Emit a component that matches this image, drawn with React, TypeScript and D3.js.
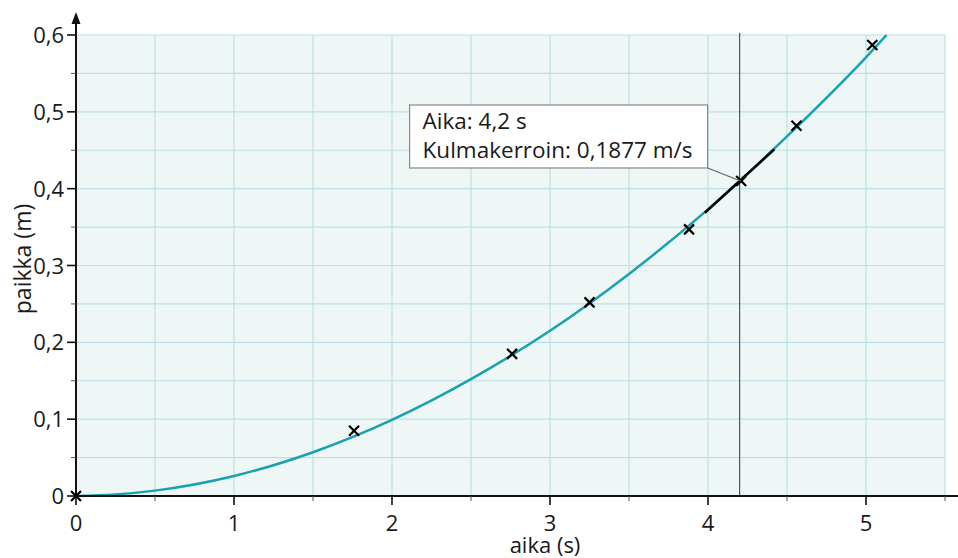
import React, { useEffect, useRef } from 'react';
import * as d3 from 'd3';

// measured points (aika s, paikka m)
const pointTimes = [0, 1.76, 2.76, 3.25, 3.88, 4.21, 4.56, 5.04];
const pointPositions = [0, 0.085, 0.185, 0.252, 0.347, 0.41, 0.482, 0.587];

// fitted curve
const curveTimes = [0, 0.25, 0.5, 1, 1.5, 2, 2.5, 3, 3.5, 4, 4.5, 5, 5.13];
const curvePositions = [0, 0.002, 0.007, 0.026, 0.057, 0.099, 0.152, 0.215, 0.289, 0.373, 0.468, 0.571, 0.6];

// tangent at t = 4.2
const tangentTime = 4.2;
const tangentPosition = 0.41;
const tangentSlope = 0.1877;
const tangentSpan = [3.98, 4.42];

const xTicks = [0, 1, 2, 3, 4, 5];
const xMinorTicks = [0.5, 1.5, 2.5, 3.5, 4.5, 5.5];
const yTicks = [0, 0.1, 0.2, 0.3, 0.4, 0.5, 0.6];
const yMinorTicks = [0.05, 0.15, 0.25, 0.35, 0.45, 0.55];

const tooltipLines = ['Aika: 4,2 s', 'Kulmakerroin: 0,1877 m/s'];

const WIDTH = 958;
const HEIGHT = 558;
const FONT = "'Open Sans', sans-serif";

const fmt = (v: number) => (v === 0 ? '0' : d3.format('.1f')(v).replace('.', ','));

const App = () => {
    const ref = useRef<SVGSVGElement>(null);

    useEffect(() => {
        const svg = d3.select(ref.current);
        svg.selectAll('*').remove();

        const x = d3.scaleLinear().domain([0, 5.5]).range([76, 945]);
        const y = d3.scaleLinear().domain([0, 0.6]).range([496, 35]);

        // plot background
        svg.append('rect')
            .attr('x', x(0))
            .attr('y', y(0.6))
            .attr('width', x(5.5) - x(0))
            .attr('height', y(0) - y(0.6))
            .attr('fill', '#eff6f6');

        // grid
        const grid = svg.append('g').attr('stroke', '#b9e1e7').attr('stroke-width', 1.2);
        [...xTicks, ...xMinorTicks].forEach((t) => {
            grid.append('line')
                .attr('x1', x(t)).attr('x2', x(t))
                .attr('y1', y(0)).attr('y2', y(0.6));
        });
        [...yTicks, ...yMinorTicks].forEach((v) => {
            grid.append('line')
                .attr('x1', x(0)).attr('x2', x(5.5))
                .attr('y1', y(v)).attr('y2', y(v));
        });

        // vertical marker at t = 4.2
        svg.append('line')
            .attr('x1', x(tangentTime)).attr('x2', x(tangentTime))
            .attr('y1', y(0.6) - 2).attr('y2', y(0))
            .attr('stroke', '#555')
            .attr('stroke-width', 1.2);

        // fitted curve
        const line = d3.line<number>()
            .x((d, i) => x(curveTimes[i]))
            .y((d) => y(d))
            .curve(d3.curveMonotoneX);
        svg.append('path')
            .attr('d', line(curvePositions))
            .attr('fill', 'none')
            .attr('stroke', '#17a2af')
            .attr('stroke-width', 2.5);

        // tangent segment
        svg.append('line')
            .attr('x1', x(tangentSpan[0]))
            .attr('y1', y(tangentPosition + tangentSlope * (tangentSpan[0] - tangentTime)))
            .attr('x2', x(tangentSpan[1]))
            .attr('y2', y(tangentPosition + tangentSlope * (tangentSpan[1] - tangentTime)))
            .attr('stroke', '#000')
            .attr('stroke-width', 2.5);

        // axes
        const axes = svg.append('g').attr('stroke', '#111');
        axes.append('line')
            .attr('x1', x(0)).attr('x2', WIDTH + 5)
            .attr('y1', y(0)).attr('y2', y(0))
            .attr('stroke-width', 2);
        axes.append('line')
            .attr('x1', x(0)).attr('x2', x(0))
            .attr('y1', y(0)).attr('y2', 20)
            .attr('stroke-width', 2);
        svg.append('path')
            .attr('d', `M${x(0)},12 L${x(0) - 4.5},24 L${x(0) + 4.5},24 Z`)
            .attr('fill', '#111');

        xTicks.forEach((t) => {
            axes.append('line')
                .attr('x1', x(t)).attr('x2', x(t))
                .attr('y1', y(0)).attr('y2', y(0) + 9)
                .attr('stroke-width', 1.6);
        });
        xMinorTicks.forEach((t) => {
            axes.append('line')
                .attr('x1', x(t)).attr('x2', x(t))
                .attr('y1', y(0)).attr('y2', y(0) + 5)
                .attr('stroke-width', 1)
                .attr('stroke', '#555');
        });
        yTicks.forEach((v) => {
            axes.append('line')
                .attr('x1', x(0) - 9).attr('x2', x(0))
                .attr('y1', y(v)).attr('y2', y(v))
                .attr('stroke-width', 1.6);
        });
        yMinorTicks.forEach((v) => {
            axes.append('line')
                .attr('x1', x(0) - 5).attr('x2', x(0))
                .attr('y1', y(v)).attr('y2', y(v))
                .attr('stroke-width', 1)
                .attr('stroke', '#555');
        });

        // tick labels
        const labels = svg.append('g')
            .style('font-family', FONT)
            .style('font-size', '22px')
            .attr('fill', '#1a1a1a');
        labels.selectAll('.xl')
            .data(xTicks)
            .enter()
            .append('text')
            .attr('x', (d) => x(d))
            .attr('y', 531)
            .attr('text-anchor', 'middle')
            .text((d) => String(d));
        labels.selectAll('.yl')
            .data(yTicks)
            .enter()
            .append('text')
            .attr('x', x(0) - 12)
            .attr('y', (d) => y(d) + 8)
            .attr('text-anchor', 'end')
            .text((d) => fmt(d));

        // axis titles
        labels.append('text')
            .attr('x', 545)
            .attr('y', 553)
            .attr('text-anchor', 'middle')
            .text('aika (s)');
        labels.append('text')
            .attr('transform', 'translate(31,259) rotate(-90)')
            .attr('text-anchor', 'middle')
            .style('font-size', '23px')
            .text('paikka (m)');

        // markers
        const marks = svg.append('g').attr('stroke', '#000').attr('stroke-width', 2.2);
        pointTimes.forEach((t, i) => {
            const cx = x(t);
            const cy = y(pointPositions[i]);
            marks.append('path')
                .attr('d', `M${cx - 5},${cy - 5} L${cx + 5},${cy + 5} M${cx - 5},${cy + 5} L${cx + 5},${cy - 5}`);
        });

        // tooltip
        const px = x(tangentTime) + 1;
        const py = y(tangentPosition);
        const box = { x: px - 331, y: py - 76, w: 298, h: 63 };
        svg.append('line')
            .attr('x1', box.x + box.w).attr('y1', box.y + box.h)
            .attr('x2', px).attr('y2', py)
            .attr('stroke', '#666')
            .attr('stroke-width', 1.2);
        svg.append('rect')
            .attr('x', box.x).attr('y', box.y)
            .attr('width', box.w).attr('height', box.h)
            .attr('fill', '#fff')
            .attr('stroke', '#888')
            .attr('stroke-width', 1.2);
        svg.append('g')
            .style('font-family', FONT)
            .style('font-size', '22.5px')
            .attr('fill', '#1a1a1a')
            .selectAll('text')
            .data(tooltipLines)
            .enter()
            .append('text')
            .attr('x', box.x + 13)
            .attr('y', (d, i) => box.y + 24 + i * 29)
            .text((d) => d);
    }, []);

    return (
        <div style={{ position: 'fixed', left: 0, top: 0 }}>
            <svg ref={ref} width={WIDTH} height={HEIGHT} style={{ display: 'block', background: '#fff' }} />
        </div>
    );
};

export default App;
